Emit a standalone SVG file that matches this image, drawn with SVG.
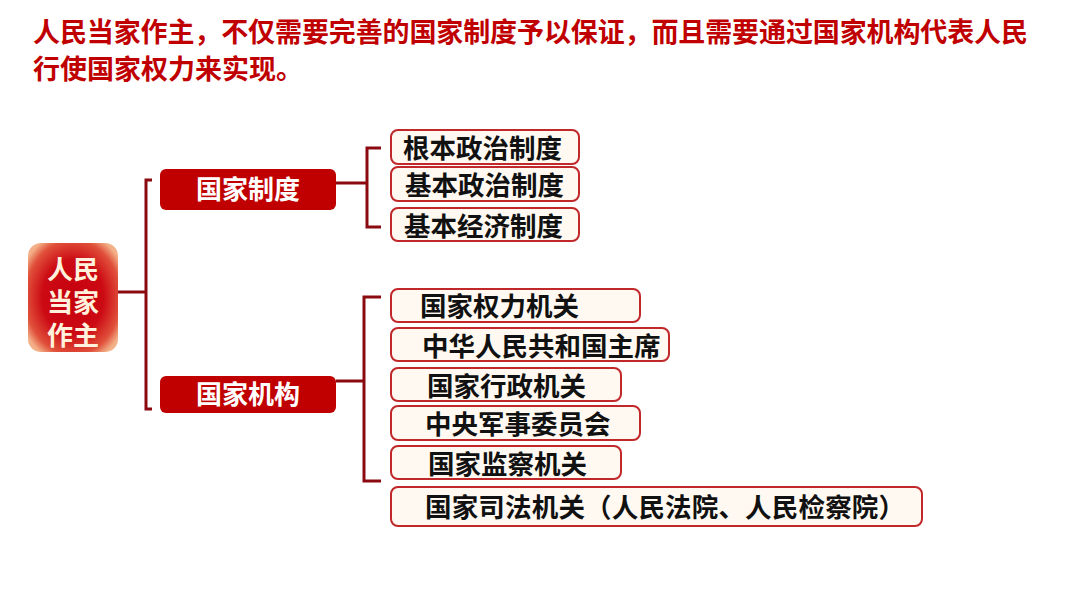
<svg xmlns="http://www.w3.org/2000/svg" width="1080" height="608" viewBox="0 0 1080 608">
<defs>
<radialGradient id="rootg" cx="0.5" cy="0.5" r="0.62">
<stop offset="0" stop-color="#C4000C"/>
<stop offset="0.55" stop-color="#CC0A14"/>
<stop offset="0.85" stop-color="#E0503A"/>
<stop offset="1" stop-color="#F3B088"/>
</radialGradient>
<style>
text{font-family:"Noto Sans CJK SC","Noto Sans",sans-serif;font-weight:bold}
.title{fill:#C00000;font-size:27px}
.mid rect{fill:#C00000}
.mid text{fill:#FFFFFF;font-size:26px;text-anchor:middle}
.leaf rect{fill:#FFF9F2;stroke:#C0282A;stroke-width:2}
.leaf text{fill:#111111;font-size:26.5px}
.root text{fill:#FFF1DC;font-size:26px;text-anchor:middle}
.conn path{fill:none;stroke:#8B0A10;stroke-width:3}
</style>
</defs>
<rect width="1080" height="608" fill="#FFFFFF"/>
<g id="title">
<text class="title" x="33" y="42" textLength="995">人民当家作主，不仅需要完善的国家制度予以保证，而且需要通过国家机构代表人民</text>
<text class="title" x="33" y="79">行使国家权力来实现。</text>
</g>
<g class="conn" id="connectors">
<path d="M118 292 H146"/>
<path d="M152 180 H146 V409 H152"/>
<path d="M320 183 H367"/>
<path d="M381 148 H367 V227 H381"/>
<path d="M336 381 H364"/>
<path d="M381 297 H364 V481 H381"/>
</g>
<g class="root" id="root">
<rect x="28" y="243" width="90" height="109" rx="13" fill="url(#rootg)"/>
<text x="73" y="279"><tspan x="73" y="279">人民</tspan><tspan x="73" y="312">当家</tspan><tspan x="73" y="345">作主</tspan></text>
</g>
<g class="mid" id="guojiazhidu">
<rect x="160" y="169" width="176" height="41" rx="6"/>
<text x="248" y="199">国家制度</text>
</g>
<g class="mid" id="guojiajigou">
<rect x="160" y="376" width="176" height="37" rx="6"/>
<text x="248" y="404">国家机构</text>
</g>
<g class="leaf" id="leaf1">
<rect x="391" y="130" width="188" height="34" rx="7"/>
<text x="403" y="158">根本政治制度</text>
</g>
<g class="leaf" id="leaf2">
<rect x="391" y="167" width="188" height="34" rx="7"/>
<text x="405" y="195">基本政治制度</text>
</g>
<g class="leaf" id="leaf3">
<rect x="391" y="208" width="188" height="33" rx="7"/>
<text x="404" y="236">基本经济制度</text>
</g>
<g class="leaf" id="leaf4">
<rect x="391" y="289" width="249" height="33" rx="7"/>
<text x="420" y="316">国家权力机关</text>
</g>
<g class="leaf" id="leaf5">
<rect x="391" y="328" width="278" height="33" rx="7"/>
<text x="422" y="356">中华人民共和国主席</text>
</g>
<g class="leaf" id="leaf6">
<rect x="391" y="368" width="230" height="33" rx="7"/>
<text x="427" y="396">国家行政机关</text>
</g>
<g class="leaf" id="leaf7">
<rect x="391" y="406" width="249" height="34" rx="7"/>
<text x="425" y="434">中央军事委员会</text>
</g>
<g class="leaf" id="leaf8">
<rect x="391" y="446" width="230" height="33" rx="7"/>
<text x="428" y="474">国家监察机关</text>
</g>
<g class="leaf" id="leaf9">
<rect x="391" y="487" width="531" height="39" rx="7"/>
<text x="425" y="517" textLength="480">国家司法机关（人民法院、人民检察院）</text>
</g>
</svg>
